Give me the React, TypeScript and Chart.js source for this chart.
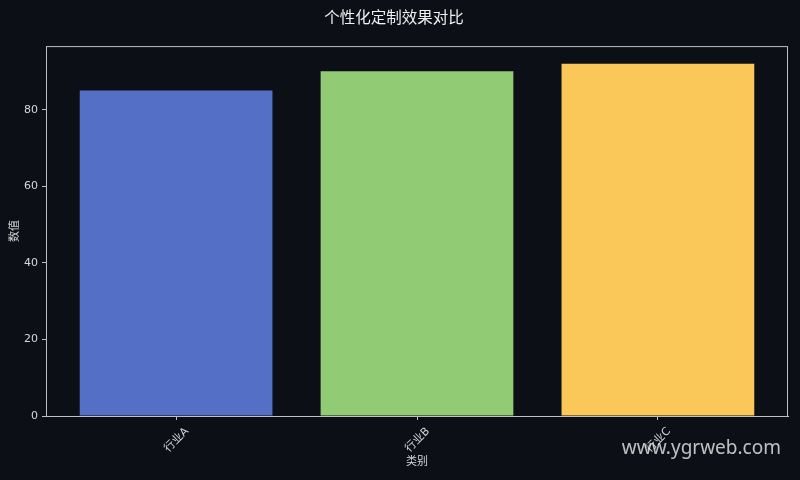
import { useEffect, useRef } from "react"
import { Chart, registerables } from "chart.js"

Chart.register(...registerables)

const categories = ["行业A", "行业B", "行业C"]
const values = [85, 90, 92]
const barColors = ["#5470c6", "#91cc75", "#fac858"]
const yTicks = [0, 20, 40, 60, 80]

const BG = "#0c0f16"
const FG = "#d8d8d8"
const FONT = "'DejaVu Sans', 'Noto Sans CJK SC', sans-serif"

// draws the full box round the plot area
const frame = {
  id: "frame",
  afterDraw(chart: Chart) {
    const { ctx, chartArea } = chart
    ctx.save()
    ctx.strokeStyle = "#bfbfbf"
    ctx.lineWidth = 1
    ctx.strokeRect(chartArea.left + 0.5, chartArea.top + 0.5, chartArea.width - 1, chartArea.height)
    ctx.restore()
  },
}

const App = () => {
  const canvasRef = useRef<HTMLCanvasElement>(null)

  useEffect(() => {
    document.body.style.margin = "0"
    document.body.style.background = BG
    const ctx = canvasRef.current?.getContext("2d")
    if (!ctx) return

    const chart = new Chart(ctx, {
      type: "bar",
      data: {
        datasets: [
          {
            data: values.map((v, i) => ({ x: i, y: v })),
            backgroundColor: barColors,
            barPercentage: 0.8,
            categoryPercentage: 1,
            borderWidth: 0,
          },
        ],
      },
      options: {
        responsive: false,
        animation: false,
        layout: { padding: { top: 0, left: 0, right: 12, bottom: 0 } },
        plugins: {
          legend: { display: false },
          tooltip: { enabled: false },
          title: {
            display: true,
            text: "个性化定制效果对比",
            color: "#f0f0f0",
            font: { family: FONT, size: 15.5, weight: "normal" },
            padding: { top: 9.5, bottom: 18 },
          },
        },
        scales: {
          x: {
            type: "linear",
            min: -0.54,
            max: 2.54,
            offset: false,
            afterBuildTicks: (scale: any) => {
              scale.ticks = categories.map((_, i) => ({ value: i }))
            },
            afterFit: (scale: any) => {
              scale.height = 64
            },
            ticks: {
              color: FG,
              font: { family: FONT, size: 11 },
              minRotation: 45,
              maxRotation: 45,
              padding: 5,
              labelOffset: 11,
              callback: (v: any) => categories[v as number] ?? "",
            },
            grid: { offset: false, drawOnChartArea: false, color: "#bfbfbf", tickLength: 4 },
            border: { color: "#bfbfbf" },
            title: {
              display: true,
              text: "类别",
              color: FG,
              font: { family: FONT, size: 11 },
              padding: { top: 0, bottom: 11 },
            },
          },
          y: {
            min: 0,
            max: 96.6,
            afterBuildTicks: (scale: any) => {
              scale.ticks = yTicks.map((v) => ({ value: v }))
            },
            afterFit: (scale: any) => {
              scale.width = 46
            },
            ticks: {
              color: FG,
              font: { family: FONT, size: 11 },
              padding: 4,
            },
            grid: { drawOnChartArea: false, color: "#bfbfbf", tickLength: 4 },
            border: { color: "#bfbfbf" },
            title: {
              display: true,
              text: "数值",
              color: FG,
              font: { family: FONT, size: 11 },
              padding: { top: 9, bottom: 0 },
            },
          },
        },
      },
      plugins: [frame],
    })

    return () => chart.destroy()
  }, [])

  return (
    <div style={{ position: "relative", width: 800, height: 480, background: BG }}>
      <canvas ref={canvasRef} width={800} height={480} />
      <div
        style={{
          position: "absolute",
          right: 19,
          top: 435,
          color: "rgba(230,230,230,0.82)",
          fontFamily: "'Noto Sans', sans-serif",
          fontSize: 19,
          lineHeight: "24px",
        }}
      >
        www.ygrweb.com
      </div>
    </div>
  )
}

export default App
